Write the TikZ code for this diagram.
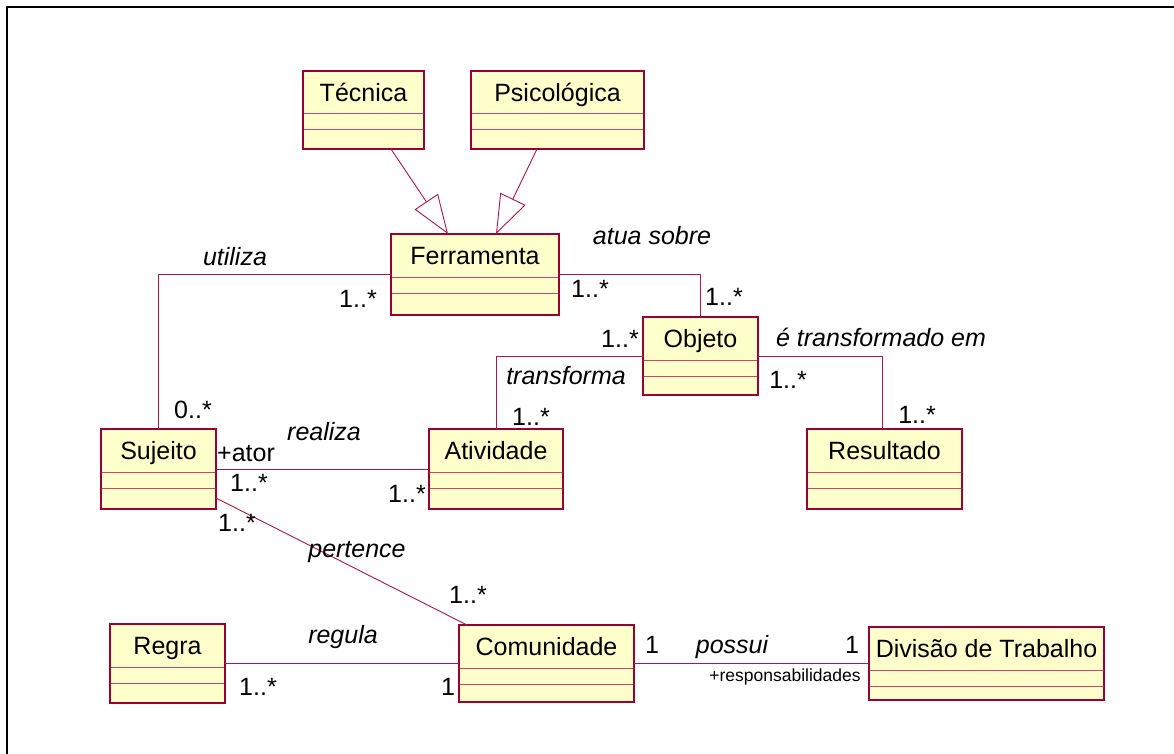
\documentclass[tikz,border=0pt]{standalone}
\usepackage{fontspec}
\setmainfont{Liberation Sans}
\usetikzlibrary{calc,arrows.meta}
\definecolor{umlborder}{RGB}{153,0,51}
\definecolor{umlsep}{RGB}{195,70,110}
\definecolor{umlline}{RGB}{165,25,75}
\definecolor{umlfill}{RGB}{255,255,204}
\tikzset{
 classbox/.style={draw=umlborder, line width=1.3pt, fill=umlfill, inner sep=0pt, outer sep=0pt},
 sepline/.style={draw=umlsep, line width=1pt},
 nametext/.style={anchor=base, inner sep=0pt, font=\fontsize{25}{30}\selectfont},
 mult/.style={anchor=base, inner sep=0pt, font=\fontsize{25}{30}\selectfont},
 assoclabel/.style={anchor=base, inner sep=0pt, font=\fontsize{25}{30}\selectfont\itshape},
 rolesmall/.style={anchor=base, inner sep=0pt, font=\fontsize{17.5}{21}\selectfont},
 assoc/.style={draw=umlline, line width=0.9pt},
 gen/.style={draw=umlline, line width=0.9pt, -{Triangle[length=39pt,width=28pt,fill=white]}},
 frameline/.style={draw=black, line width=2pt},
}
\newcommand\umlcls[6]{%
 \node[classbox, minimum width={(#5)-(#3)}, minimum height={(#6)-(#4)}] (#1) at ({((#3)+(#5))/2},{((#4)+(#6))/2}) {};
 \draw[sepline] ($(#1.north west)+(0.6,43)$) -- ($(#1.north east)+(-0.6,43)$);
 \draw[sepline] ($(#1.north west)+(0.6,59)$) -- ($(#1.north east)+(-0.6,59)$);
 \node[nametext] (#1-name) at ($(#1.north)+(0,30.5)$) {#2};
}
\begin{document}
\begin{tikzpicture}[x=1pt,y=-1pt]
\useasboundingbox (0,0) rectangle (1174,754);
\draw[frameline] (7,754) -- (7,7) -- (1174,7);

% classes
\umlcls{tec}{Técnica}{303}{71}{424}{149}
\umlcls{psi}{Psicológica}{471}{71}{644}{149}
\umlcls{fer}{Ferramenta}{391}{234}{559}{315}
\umlcls{obj}{Objeto}{643}{317}{758}{395}
\umlcls{suj}{Sujeito}{101}{429}{216}{509}
\umlcls{atv}{Atividade}{429}{429}{563}{509}
\umlcls{res}{Resultado}{807}{429}{962}{509}
\umlcls{reg}{Regra}{110}{624}{225}{703}
\umlcls{com}{Comunidade}{459}{625}{634}{702}
\umlcls{div}{Divisão de Trabalho}{869}{627}{1104}{700}

% generalizations
\draw[gen] ($(tec.south)+(27.5,0)$) -- ($(fer.north)+(-27,0)$);
\draw[gen] ($(psi.south)+(-20.5,0)$) -- ($(fer.north)+(21,0)$);

% associations
\draw[assoc] (fer.west) -| (suj.north);
\draw[assoc] (fer.east) -| (obj.north);
\draw[assoc] (atv.north) |- (obj.west);
\draw[assoc] (obj.east) -| ($(res.north)+(-2.5,0)$);
\draw[assoc] (suj.east) -- (atv.west);
\draw[assoc] ($(suj.south east)+(0,-11)$) -- ($(com.north west)+(8,0)$);
\draw[assoc] (reg.east) -- (com.west);
\draw[assoc] (com.east) -- (div.west);

% association names
\node[assoclabel] (l-utiliza) at (235,265) {utiliza};
\node[assoclabel] (l-atua) at (652,244) {atua sobre};
\node[assoclabel] (l-transf) at (881,346) {é transformado em};
\node[assoclabel] (l-transforma) at (566,384) {transforma};
\node[assoclabel] (l-realiza) at (324,440) {realiza};
\node[assoclabel] (l-pertence) at (357,557) {pertence};
\node[assoclabel] (l-regula) at (343,643) {regula};
\node[assoclabel] (l-possui) at (732,653) {possui};

% roles
\node[mult] (r-ator) at (246,461) {+ator};
\node[rolesmall] (r-resp) at (785,681) {+responsabilidades};

% multiplicities
\node[mult] (m1) at (358,307) {1..*};
\node[mult] (m2) at (590,297) {1..*};
\node[mult] (m3) at (724,305) {1..*};
\node[mult] (m4) at (620,347) {1..*};
\node[mult] (m5) at (788,388) {1..*};
\node[mult] (m6) at (917,423) {1..*};
\node[mult] (m7) at (531,425) {1..*};
\node[mult] (m8) at (193,418) {0..*};
\node[mult] (m9) at (249,491) {1..*};
\node[mult] (m10) at (407,502) {1..*};
\node[mult] (m11) at (237,531) {1..*};
\node[mult] (m12) at (468,603) {1..*};
\node[mult] (m13) at (258,695) {1..*};
\node[mult] (m14) at (448,695) {1};
\node[mult] (m15) at (652,653) {1};
\node[mult] (m16) at (852,653) {1};
\end{tikzpicture}
\end{document}
